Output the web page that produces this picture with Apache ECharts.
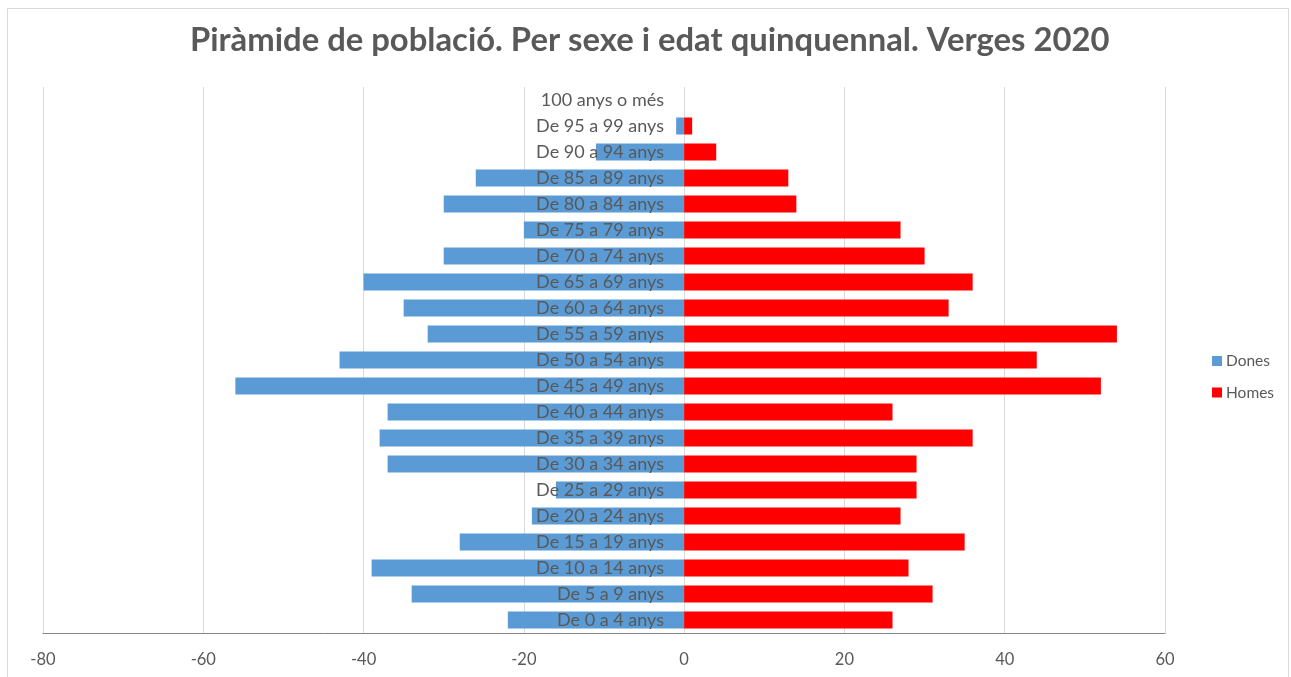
<!DOCTYPE html>
<html><head><meta charset="utf-8">
<script src="https://cdn.jsdelivr.net/npm/echarts@6/dist/echarts.min.js"></script>
<style>html,body{margin:0;padding:0;background:#fff}#c{width:1291px;height:677px;}</style>
</head><body><div id="c"></div>
<script>
const categories = ["De 0 a 4 anys","De 5 a 9 anys","De 10 a 14 anys","De 15 a 19 anys","De 20 a 24 anys","De 25 a 29 anys","De 30 a 34 anys","De 35 a 39 anys","De 40 a 44 anys","De 45 a 49 anys","De 50 a 54 anys","De 55 a 59 anys","De 60 a 64 anys","De 65 a 69 anys","De 70 a 74 anys","De 75 a 79 anys","De 80 a 84 anys","De 85 a 89 anys","De 90 a 94 anys","De 95 a 99 anys","100 anys o més"];
const dones = [-22,-34,-39,-28,-19,-16,-37,-38,-37,-56,-43,-32,-35,-40,-30,-20,-30,-26,-11,-1,0];
const homes = [26,31,28,35,27,29,29,36,26,52,44,54,33,36,30,27,14,13,4,1,0];
const titleText = "Piràmide de població. Per sexe i edat quinquennal. Verges 2020";
const FONT = "Lato";
const chart = echarts.init(document.getElementById('c'), null, {renderer:'canvas'});
chart.setOption({
  animation:false,
  backgroundColor:'#fff',
  graphic:[{type:'rect',shape:{x:7.5,y:8.5,width:1281,height:680},style:{fill:'none',stroke:'#d9d9d9',lineWidth:1},silent:true}],
  title:{text:titleText,left:190,top:24,padding:0,textStyle:{fontFamily:FONT,fontWeight:'bold',fontSize:32.8,color:'#595959'}},
  legend:{orient:'vertical',left:1207,top:348,itemWidth:10,itemHeight:10,itemGap:15.5,icon:'rect',
    textStyle:{fontFamily:FONT,fontSize:15.5,color:'#595959',padding:[0,0,0,-1]},data:['Dones','Homes']},
  grid:{left:43,right:126,top:87,bottom:44,outerBoundsMode:'none',containLabel:false},
  xAxis:{type:'value',min:-80,max:60,interval:20,
    axisLine:{show:true,onZero:false,lineStyle:{color:'#868686',width:1}},axisTick:{show:false},
    splitLine:{show:true,lineStyle:{color:'#d9d9d9',width:1}},
    axisLabel:{fontFamily:FONT,fontSize:16.5,color:'#595959',margin:18}},
  yAxis:{type:'category',data:categories,z:10,position:'left',offset:-641,
    axisLine:{show:false,onZero:false},axisTick:{show:false},
    axisLabel:{fontFamily:FONT,fontSize:18,color:'#595959',margin:20}},
  series:[
    {name:'Dones',type:'bar',data:dones,barWidth:17,barGap:'-100%',itemStyle:{color:'#5B9BD5'}},
    {name:'Homes',type:'bar',data:homes,barWidth:17,barGap:'-100%',itemStyle:{color:'#FF0000'}}
  ]
});
</script></body></html>
